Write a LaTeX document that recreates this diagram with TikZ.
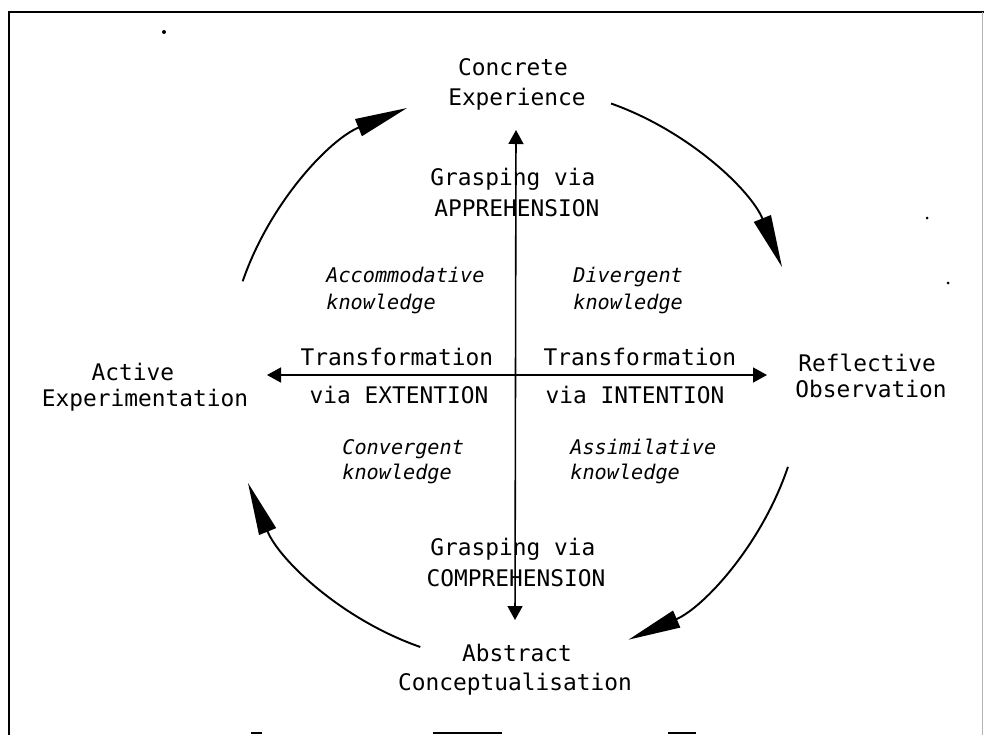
\documentclass[tikz,border=0pt]{standalone}
\usepackage{fontspec}
\setmainfont{DejaVu Sans Mono}
\usetikzlibrary{arrows.meta}
\begin{document}
\begin{tikzpicture}[x=0.02cm,y=-0.02cm,
  lbl/.style={font=\fontsize{13}{15}\selectfont, inner sep=0pt, anchor=base},
  kind/.style={font=\fontsize{11.5}{14}\selectfont\itshape, inner sep=0pt, anchor=base west},
  cyc/.style={line width=1.1pt, -{Triangle[length=1.05cm,width=0.36cm]}},
  axis/.style={line width=0.9pt, {Triangle[length=0.28cm,width=0.3cm]}-{Triangle[length=0.28cm,width=0.3cm]}},
  frame/.style={line width=1pt}]
\useasboundingbox (0,0) rectangle (984,735);

% frame
\draw[frame] (9,735) -- (9,12) -- (984,12);
\draw[line width=0.4pt, gray!60] (982,12) -- (982,735);
\draw[line width=0.8pt] (251,733) -- (262,733) (433,733) -- (502,733) (668,733) -- (696,733);
\fill (164,32) circle[radius=2];
\fill (927,218) circle[radius=1.5];
\fill (948,283) circle[radius=1.5];

% centre of the learning cycle
\coordinate (c) at (515,375);

% the four stages
\node[lbl] (ce1) at (513,75) {Concrete};
\node[lbl] (ce2) at (517,105) {Experience};
\node[lbl] (ro1) at (867,371) {Reflective};
\node[lbl] (ro2) at (871,397) {Observation};
\node[lbl] (ac1) at (517,661) {Abstract};
\node[lbl] (ac2) at (515,690) {Conceptualisation};
\node[lbl] (ae1) at (133,380) {Active};
\node[lbl] (ae2) at (145,406) {Experimentation};

% grasping and transformation dimensions
\node[lbl] (ga1) at (513,185) {Grasping via};
\node[lbl] (ga2) at (517,216) {APPREHENSION};
\node[lbl] (gc1) at (513,555) {Grasping via};
\node[lbl] (gc2) at (516,586) {COMPREHENSION};
\node[lbl] (te1) at (397,365) {Transformation};
\node[lbl] (te2) at (399,403) {via EXTENTION};
\node[lbl] (ti1) at (640,365) {Transformation};
\node[lbl] (ti2) at (635,403) {via INTENTION};

% knowledge forms
\node[kind] (k1a) at (326,282) {Accommodative};
\node[kind] (k1b) at (326,309) {knowledge};
\node[kind] (k2a) at (573,282) {Divergent};
\node[kind] (k2b) at (573,309) {knowledge};
\node[kind] (k3a) at (342,454) {Convergent};
\node[kind] (k3b) at (342,479) {knowledge};
\node[kind] (k4a) at (570,454) {Assimilative};
\node[kind] (k4b) at (570,479) {knowledge};

% axes
\coordinate (up) at (516,130);
\coordinate (down) at (515,620);
\coordinate (left) at (267,375);
\coordinate (right) at (767,375);
\draw[axis] (left) -- (right);
\draw[axis] (down) -- (up);

% cycle arrows
\draw[cyc] (c) ++(199:288) arc[start angle=199, end angle=248, radius=288];
\draw[cyc] (c) ++(289.5:288) arc[start angle=289.5, end angle=338, radius=288];
\draw[cyc] (c) ++(18.6:288) arc[start angle=18.6, end angle=66.8, radius=288];
\draw[cyc] (c) ++(109.2:288) arc[start angle=109.2, end angle=158, radius=288];
\end{tikzpicture}
\end{document}
